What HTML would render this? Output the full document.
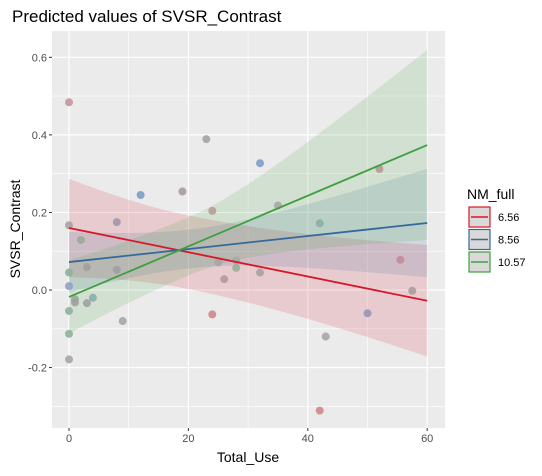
<!DOCTYPE html>
<html><head><meta charset="utf-8"><style>
body{margin:0;background:#fff;}
svg text{font-family:"Liberation Sans",Arial,sans-serif;}
</style></head><body>
<svg id="chart" width="542" height="471" viewBox="0 0 542 471" xmlns="http://www.w3.org/2000/svg">
<text x="12" y="22" font-size="17" fill="#000">Predicted values of SVSR_Contrast</text>
<rect x="52" y="31" width="393" height="397" fill="#ebebeb"/>
<g id="grid"></g>
<g id="ribbons"></g>
<g id="points"></g>
<g id="lines"></g>
<g id="axes"></g>
<text x="248" y="462" font-size="14" text-anchor="middle" fill="#000">Total_Use</text>
<text transform="translate(20,229) rotate(-90)" font-size="14" text-anchor="middle" fill="#000">SVSR_Contrast</text>
<g>
<text x="467" y="199" font-size="14" fill="#000">NM_full</text>
<g id="legend"></g>
</g>
</svg>
<script>
const groups = ['6.56', '8.56', '10.57'];
const intercepts = [0.160, 0.072, -0.018];
const slopes = [-0.00313, 0.00168, 0.00653];
const ciAt0 = [0.127, 0.078, 0.094];
const ciMid = [0.095, 0.05, 0.075];
const ciAt60 = [0.144, 0.140, 0.245];
const pointX = [0,23,32,12,19,24,0,8,2,3,8,0,0,1,1,3,4,0,0,0,9,24,25,26,28,28,32,35,42,52,55.5,57.5,50,43,42];
const pointY = [0.484,0.389,0.327,0.245,0.254,0.204,0.167,0.175,0.129,0.059,0.052,0.045,0.010,-0.024,-0.032,-0.034,-0.020,-0.054,-0.113,-0.179,-0.080,-0.063,0.071,0.028,0.076,0.057,0.045,0.218,0.172,0.312,0.078,-0.002,-0.060,-0.120,-0.311];
const pointColor = ['#c4959e','#a7a2a3','#7d9ec6','#7d9ec6','#a99aa8','#b59d96','#aaa0a4','#a495aa','#98aa96','#a0a0a0','#a09fa3','#8eb19c','#8fa4c2','#98a898','#a0a0a0','#a0a0a0','#8aaeab','#8eb19c','#8eb19c','#a6a6a6','#a6a6a6','#d0868c','#a6a6a6','#b29a98','#a6a6a6','#9aad98','#aaa0a4','#a6a6a6','#8aaeab','#b59996','#c58a98','#ad9b9b','#9994b6','#a6a6a6','#d0868c'];
const xTicks = [0, 20, 40, 60];
const yTicks = [-0.2, 0.0, 0.2, 0.4, 0.6];
const yTickLabels = ['-0.2', '0.0', '0.2', '0.4', '0.6'];
const colors = ['#d7172a', '#34699c', '#3f9f3f'];

const NS = 'http://www.w3.org/2000/svg';
const X = v => 69 + v * 5.97;
const Y = v => 290 - v * 387.8;
function mk(tag, attrs, parent) {
  const e = document.createElementNS(NS, tag);
  for (const k in attrs) e.setAttribute(k, attrs[k]);
  document.getElementById(parent).appendChild(e);
  return e;
}
[10, 30, 50].forEach(v => { const l = mk('line', {x1: X(v), x2: X(v), y1: 31, y2: 428, stroke: '#fff', 'stroke-width': 0.6}, 'grid');
  
   });
[-0.3, -0.1, 0.1, 0.3, 0.5].forEach(v => { const l = mk('line', {x1: 52, x2: 445, y1: Y(v), y2: Y(v), stroke: '#fff', 'stroke-width': 0.6}, 'grid');
  
   });
xTicks.forEach(v => {
  const l = mk('line', {x1: X(v), x2: X(v), y1: 31, y2: 428, stroke: '#fff', 'stroke-width': 1.2}, 'grid');
  
  
  const t = mk('line', {x1: X(v), x2: X(v), y1: 428, y2: 431, stroke: '#333', 'stroke-width': 1}, 'axes');
  
  
  const tx = mk('text', {x: X(v), y: 442, 'font-size': 11, 'text-anchor': 'middle', fill: '#4d4d4d'}, 'axes');
  tx.textContent = String(v);
  
  
});
yTicks.forEach((v, i) => {
  const l = mk('line', {x1: 52, x2: 445, y1: Y(v), y2: Y(v), stroke: '#fff', 'stroke-width': 1.2}, 'grid');
  
  
  const t = mk('line', {x1: 49, x2: 52, y1: Y(v), y2: Y(v), stroke: '#333', 'stroke-width': 1}, 'axes');
  
  
  const tx = mk('text', {x: 47, y: Y(v) + 4, 'font-size': 11, 'text-anchor': 'end', fill: '#4d4d4d'}, 'axes');
  tx.textContent = yTickLabels[i];
  
  
});
groups.forEach((g, i) => {
  const xm = 20, sm2 = ciMid[i] ** 2;
  const kL = (ciAt0[i] ** 2 - sm2) / (xm * xm);
  const kR = (ciAt60[i] ** 2 - sm2) / ((60 - xm) ** 2);
  const up = [], lo = [];
  for (let x = 0; x <= 60; x += 2) {
    const f = intercepts[i] + slopes[i] * x;
    const k = x < xm ? kL : kR;
    const se = Math.sqrt(sm2 + k * (x - xm) ** 2);
    up.push(X(x) + ',' + Y(f + se));
    lo.unshift(X(x) + ',' + Y(f - se));
  }
  const r = mk('polygon', {points: up.concat(lo).join(' '), fill: colors[i], 'fill-opacity': 0.15}, 'ribbons');
  
  
  const ln = mk('line', {x1: X(0), y1: Y(intercepts[i]), x2: X(60), y2: Y(intercepts[i] + slopes[i] * 60), stroke: colors[i], 'stroke-width': 1.8}, 'lines');
  
  
  const y0 = 207 + i * 22.5;
  const kr = mk('rect', {x: 469, y: y0, width: 21, height: 20, fill: '#d9d9d9', stroke: colors[i], 'stroke-width': 1.2}, 'legend');
  
  
  const kl = mk('line', {x1: 471, x2: 488, y1: y0 + 10, y2: y0 + 10, stroke: colors[i], 'stroke-width': 1.5}, 'legend');
  
  
  const kt = mk('text', {x: 498, y: y0 + 14, 'font-size': 11, fill: '#000'}, 'legend');
  kt.textContent = g;
  
  
});
pointX.forEach((x, i) => {
  const c = mk('circle', {cx: X(x), cy: Y(pointY[i]), r: 4, fill: pointColor[i], 'fill-opacity': 0.9}, 'points');
  
  
});
</script>
</body></html>
